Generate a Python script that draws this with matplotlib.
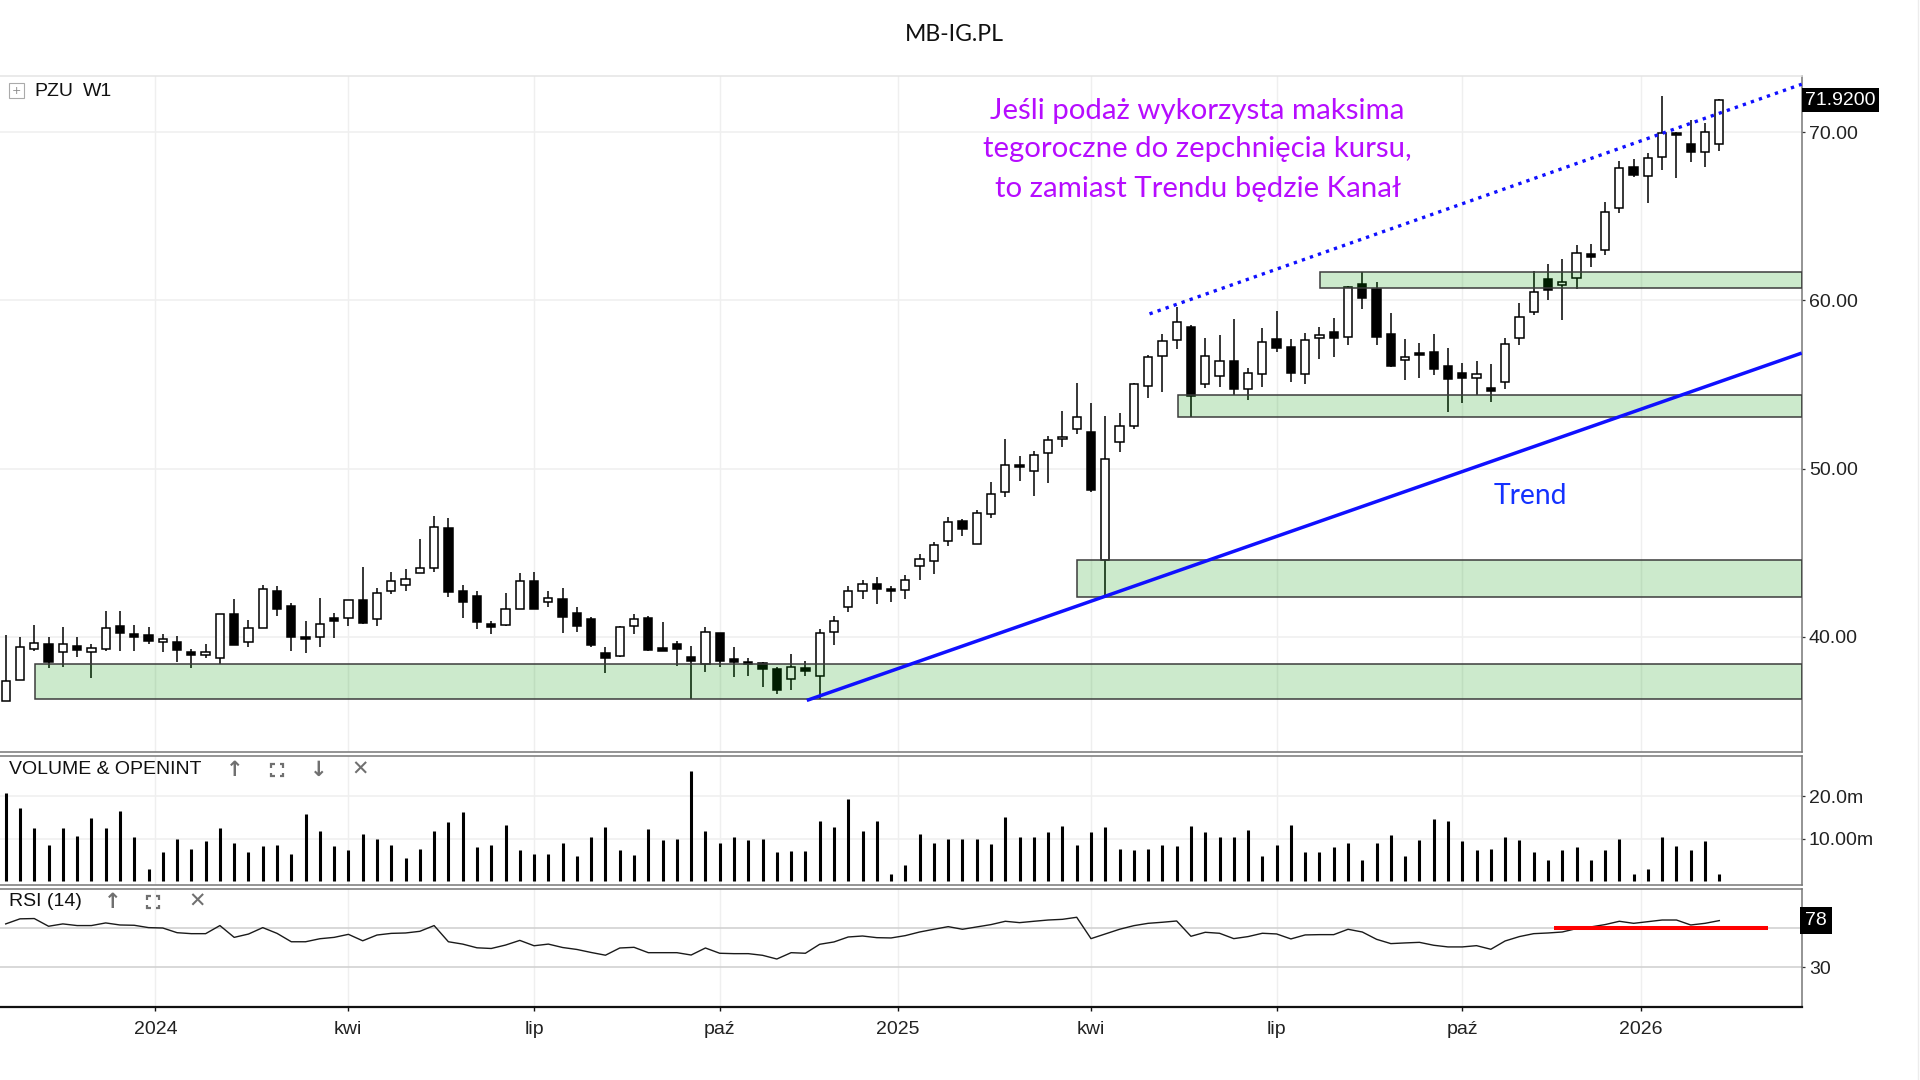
import matplotlib
matplotlib.use("Agg")
import matplotlib.pyplot as plt
from matplotlib.patches import Rectangle
from matplotlib.lines import Line2D

# ---------------- data (weekly candles, PZU W1) ----------------
opens = [36.17, 37.42, 39.29, 39.54, 39.07, 39.46, 39.07, 39.29, 40.65, 40.16,
         40.12, 39.66, 39.70, 39.11, 38.91, 38.71, 41.33, 39.66, 40.54, 42.74,
         41.83, 40.00, 39.98, 41.09, 41.09, 42.18, 41.03, 42.74, 43.06, 43.77,
         44.07, 46.45, 42.74, 42.44, 40.75, 40.69, 41.63, 43.33, 42.08, 42.22,
         41.39, 41.05, 39.01, 38.85, 40.65, 41.13, 39.31, 39.54, 38.81, 38.37,
         40.20, 38.67, 38.51, 38.41, 38.05, 37.51, 38.13, 37.67, 40.30, 41.75,
         42.69, 43.15, 42.83, 42.75, 44.18, 44.52, 45.68, 46.87, 45.52, 47.31,
         48.61, 50.22, 49.86, 50.92, 51.75, 52.34, 52.20, 44.56, 51.61, 52.56,
         54.94, 56.67, 57.66, 58.41, 55.04, 55.48, 56.37, 54.72, 55.63, 57.70,
         57.26, 55.63, 57.76, 58.10, 57.84, 60.97, 60.67, 58.00, 56.46, 56.89,
         56.95, 56.10, 55.70, 55.39, 54.81, 55.17, 57.74, 59.33, 61.27, 60.91,
         61.31, 62.75, 63.03, 65.50, 67.94, 67.41, 68.53, 69.96, 69.33, 68.83,
         69.29]
highs = [40.10, 40.00, 40.69, 39.96, 40.58, 39.96, 39.56, 41.55, 41.55, 40.69,
         40.58, 40.18, 40.04, 39.27, 39.56, 41.36, 42.22, 40.99, 43.08, 43.02,
         42.02, 40.93, 42.28, 41.43, 42.20, 44.17, 42.88, 43.87, 44.01, 45.79,
         47.20, 47.04, 43.08, 42.74, 40.95, 42.58, 43.77, 43.83, 42.74, 42.88,
         41.75, 41.15, 39.40, 40.63, 41.35, 41.23, 40.85, 39.74, 39.46, 40.60,
         40.22, 39.36, 38.76, 38.51, 38.21, 38.96, 38.57, 40.46, 41.25, 42.99,
         43.39, 43.55, 43.03, 43.65, 44.94, 45.64, 47.13, 47.01, 47.53, 49.22,
         51.75, 50.76, 51.02, 51.91, 53.45, 55.08, 53.89, 53.10, 53.29, 55.08,
         56.73, 58.02, 59.64, 58.55, 57.76, 57.96, 58.91, 55.97, 58.35, 59.40,
         57.70, 58.06, 58.45, 58.95, 60.85, 61.68, 61.11, 59.23, 57.68, 57.49,
         57.98, 57.19, 56.26, 56.42, 56.20, 57.78, 59.82, 61.76, 62.16, 62.46,
         63.29, 63.35, 65.86, 68.28, 68.40, 68.77, 72.14, 70.02, 70.75, 70.55,
         72.00]
lows = [36.17, 37.42, 39.17, 38.12, 38.21, 38.81, 37.52, 39.17, 39.17, 39.17,
        39.54, 39.09, 38.47, 38.12, 38.75, 38.35, 39.48, 39.40, 40.54, 41.23,
        39.17, 39.01, 39.40, 39.94, 40.63, 40.75, 40.63, 42.52, 42.74, 43.77,
        43.87, 42.38, 41.09, 40.44, 40.14, 40.63, 41.63, 41.67, 41.75, 40.20,
        40.30, 39.40, 37.86, 38.81, 40.16, 39.17, 39.17, 38.27, 36.29, 37.91,
        38.21, 37.61, 37.67, 37.01, 36.61, 36.81, 37.67, 36.27, 39.50, 41.45,
        42.25, 41.95, 42.05, 42.25, 43.35, 43.75, 45.38, 45.98, 45.52, 47.07,
        48.33, 49.26, 48.37, 49.12, 51.31, 52.06, 48.63, 42.38, 51.01, 52.36,
        54.19, 54.58, 57.12, 53.06, 54.78, 54.84, 54.38, 54.09, 54.84, 56.96,
        55.12, 55.04, 56.51, 56.63, 57.35, 59.47, 57.35, 56.07, 55.27, 55.41,
        55.56, 53.39, 53.92, 54.38, 53.98, 54.71, 57.35, 59.13, 60.02, 58.83,
        60.71, 61.96, 62.69, 65.21, 67.35, 65.80, 67.74, 67.29, 68.24, 67.94,
        68.87]
closes = [37.36, 39.40, 39.60, 38.47, 39.54, 39.23, 39.33, 40.52, 40.20, 39.96,
          39.74, 39.84, 39.21, 38.91, 39.11, 41.33, 39.48, 40.52, 42.82, 41.67,
          39.98, 39.84, 40.73, 40.95, 42.18, 40.83, 42.58, 43.33, 43.41, 44.09,
          46.55, 42.64, 42.04, 40.85, 40.56, 41.63, 43.33, 41.67, 42.28, 41.15,
          40.63, 39.50, 38.71, 40.58, 41.03, 39.21, 39.17, 39.25, 38.57, 40.30,
          38.57, 38.51, 38.37, 38.05, 36.81, 38.17, 37.97, 40.20, 40.96, 42.69,
          43.15, 42.83, 42.69, 43.35, 44.62, 45.44, 46.83, 46.43, 47.37, 48.47,
          50.20, 50.10, 50.82, 51.71, 51.90, 53.04, 48.73, 50.56, 52.56, 55.02,
          56.61, 57.56, 58.69, 54.33, 56.67, 56.37, 54.72, 55.71, 57.50, 57.16,
          55.71, 57.62, 57.96, 57.76, 60.81, 60.12, 57.84, 56.10, 56.61, 56.73,
          55.92, 55.31, 55.37, 55.62, 54.61, 57.41, 59.03, 60.48, 60.65, 61.07,
          62.83, 62.59, 65.27, 67.88, 67.49, 68.48, 69.96, 69.82, 68.83, 70.02,
          71.92]
volume_m = [20.6, 17.3, 12.4, 8.6, 12.4, 10.6, 14.8, 12.4, 16.5, 10.3,
            3.0, 6.8, 10.0, 7.7, 9.5, 12.4, 9.1, 6.8, 8.3, 8.6,
            6.5, 15.9, 11.8, 8.3, 7.4, 11.2, 10.0, 8.6, 5.4, 7.7,
            11.8, 13.9, 16.3, 8.0, 8.6, 13.3, 7.4, 6.5, 6.5, 9.1,
            5.9, 10.3, 12.7, 7.4, 6.2, 12.3, 9.7, 10.0, 25.9, 11.8,
            9.1, 10.5, 9.7, 10.0, 6.8, 7.1, 7.1, 14.1, 12.7, 19.4,
            11.8, 14.1, 1.8, 3.8, 11.2, 9.1, 10.0, 10.0, 10.0, 8.8,
            15.0, 10.3, 10.5, 11.5, 13.0, 8.5, 11.5, 12.7, 7.7, 7.3,
            7.7, 8.5, 8.3, 13.0, 11.5, 10.3, 10.5, 12.1, 5.9, 8.5,
            13.2, 6.8, 6.8, 8.0, 9.1, 5.0, 9.1, 10.9, 5.9, 9.7,
            14.7, 14.1, 9.5, 7.3, 7.7, 10.5, 9.7, 6.8, 5.0, 7.3,
            8.0, 5.0, 7.3, 10.0, 1.8, 3.0, 10.3, 8.3, 7.3, 9.5,
            1.8]
rsi = [74.5, 79.7, 80.0, 72.1, 74.5, 72.8, 72.8, 75.5, 73.4, 73.1,
       70.7, 70.3, 65.5, 64.5, 64.5, 72.8, 60.7, 64.1, 70.7, 64.8,
       56.2, 56.2, 59.3, 60.7, 63.8, 57.2, 63.1, 64.8, 65.2, 66.9,
       72.8, 56.2, 53.8, 50.0, 49.3, 52.8, 57.6, 52.1, 53.8, 50.3,
       48.3, 45.2, 42.4, 49.8, 50.5, 45.0, 45.0, 45.0, 42.6, 49.8,
       44.4, 44.0, 44.0, 42.3, 38.5, 45.0, 44.4, 53.6, 56.0, 61.1,
       62.1, 60.4, 60.1, 62.5, 66.2, 69.0, 71.7, 69.0, 71.4, 73.8,
       77.2, 75.8, 77.2, 78.5, 79.2, 81.3, 59.4, 64.2, 69.0, 72.7,
       75.1, 76.2, 77.5, 61.8, 65.9, 64.9, 59.4, 61.5, 64.9, 64.2,
       59.1, 63.2, 63.5, 63.5, 69.0, 66.2, 58.7, 54.3, 55.0, 55.6,
       52.6, 50.9, 50.9, 52.2, 48.5, 57.0, 61.5, 64.5, 65.2, 66.2,
       69.7, 71.4, 73.8, 77.2, 75.1, 76.8, 78.5, 78.5, 73.4, 75.1,
       77.9]

x_tick_pos = [10.48, 23.96, 37.02, 49.99, 62.5, 75.97, 89.0, 102.0, 114.5]
x_tick_labels = ['2024', 'kwi', 'lip', 'paź', '2025', 'kwi', 'lip', 'paź', '2026']
price_ticks = [40, 50, 60, 70]
price_tick_labels = ['40.00', '50.00', '60.00', '70.00']
vol_ticks = [10, 20]
vol_tick_labels = ['10.00m', '20.0m']
rsi_ticks = [30]
rsi_tick_labels = ['30']
rsi_levels = [30, 70]

# support / resistance zones: start (bar index), low, high
zone_start = [2.05, 75.0, 82.07, 92.04]
zone_low = [36.29, 42.38, 53.06, 60.75]
zone_high = [38.35, 44.56, 54.35, 61.68]

# trend line and channel line (bar index, price)
trend_x = [56.1, 125.77]
trend_y = [36.21, 56.87]
channel_x = [80.1, 125.77]
channel_y = [59.2, 72.86]
rsi_mark_x = [108.4, 123.4]
rsi_mark_y = [70, 70]

last_price_label = '71.9200'
last_rsi_label = '78'

title_text = 'MB-IG.PL'
note_lines = ['Jeśli podaż wykorzysta maksima',
              'tegoroczne do zepchnięcia kursu,',
              'to zamiast Trendu będzie Kanał']
trend_label = 'Trend'

# ---------------- figure ----------------
W, H = 1920, 1080
fig = plt.figure(figsize=(19.2, 10.8), dpi=100)
fig.patch.set_facecolor('white')

def fy(px):
    return 1 - px / H

XR = 1801.7 / W
ax = fig.add_axes([0, fy(751.7), XR, fy(76) - fy(751.7)])
axv = fig.add_axes([0, fy(885), XR, fy(756) - fy(885)], sharex=ax)
axr = fig.add_axes([0, fy(1006.7), XR, fy(889) - fy(1006.7)], sharex=ax)

LAB = dict(family='Liberation Sans', size=14, color='#222222')
SPINE = '#777777'
n = len(closes)
idx = list(range(n))

for a in (ax, axv, axr):
    a.set_facecolor('white')
    a.spines['left'].set_visible(False)
    for s in ('top', 'bottom', 'right'):
        a.spines[s].set_color(SPINE)
        a.spines[s].set_linewidth(1.1)
    a.yaxis.tick_right()
    a.tick_params(axis='y', which='both', direction='out', length=2.5, width=0.9,
                  color='#333333', pad=2.6, labelsize=14, labelcolor='#222222')
    a.set_xticks(x_tick_pos)
    a.grid(axis='x', color='#efefef', lw=1.0, zorder=0)
    a.set_axisbelow(True)

ax.spines['top'].set_color('#e4e4e4')
axr.spines['bottom'].set_color('#111111')
axr.spines['bottom'].set_linewidth(1.6)

ax.set_xlim(-0.40, 125.77)
ax.set_ylim(33.16, 73.35)
axv.set_ylim(-0.84, 29.37)
axr.set_ylim(-10.4, 110.3)

# ----- main price panel -----
ax.set_yticks(price_ticks)
ax.set_yticklabels(price_tick_labels, **LAB)
ax.grid(axis='y', color='#f0f0f0', lw=1.2, zorder=0)

bw = 0.58
ax.vlines(idx, lows, highs, colors='black', lw=1.1, zorder=2)
for i in idx:
    o, c = opens[i], closes[i]
    lo, hi = min(o, c), max(o, c)
    hgt = max(hi - lo, 0.06)
    fc = 'white' if c >= o else 'black'
    ax.add_patch(Rectangle((i - bw / 2, lo), bw, hgt, facecolor=fc,
                           edgecolor='black', lw=1.1, zorder=3))

xr = ax.get_xlim()[1]
for s, lo, hi in zip(zone_start, zone_low, zone_high):
    ax.add_patch(Rectangle((s, lo), xr - s, hi - lo, facecolor=(0.0, 0.59, 0.0, 0.2),
                           edgecolor='#3c3c3c', lw=1.1, zorder=4))

ax.plot(trend_x, trend_y, color='#1010ff', lw=2.5, solid_capstyle='butt', zorder=5)
ax.plot(channel_x, channel_y, color='#1010ff', lw=2.4, linestyle=(0, (1, 1.55)),
        dash_capstyle='butt', zorder=5)

ax.tick_params(axis='x', which='both', length=0, labelbottom=False)

ax.annotate(last_price_label, xy=(1, closes[-1]), xycoords=('axes fraction', 'data'),
            xytext=(3.5, 0), textcoords='offset pixels', ha='left', va='center',
            family='Liberation Sans', size=14, color='white', zorder=10,
            bbox=dict(boxstyle='square,pad=0.18', fc='black', ec='none'),
            annotation_clip=False)

# ----- volume panel -----
axv.vlines(idx, 0, volume_m, colors='black', lw=2.2, zorder=3)
axv.set_yticks(vol_ticks)
axv.set_yticklabels(vol_tick_labels, **LAB)
axv.grid(axis='y', color='#f0f0f0', lw=1.2, zorder=0)
axv.tick_params(axis='x', which='both', length=0, labelbottom=False)

# ----- RSI panel -----
for lv in rsi_levels:
    axr.axhline(lv, color='#d2d2d2', lw=1.2, zorder=1)
axr.plot(idx, rsi, color='#1a1a1a', lw=1.0, zorder=3)
axr.plot(rsi_mark_x, rsi_mark_y, color='#ff0000', lw=2.9, solid_capstyle='butt', zorder=4)
axr.set_yticks(rsi_ticks)
axr.set_yticklabels(rsi_tick_labels, **LAB)
axr.set_xticklabels(x_tick_labels, **LAB)
axr.tick_params(axis='x', direction='out', length=3, width=1.0, color='#111111', pad=7)
axr.annotate(last_rsi_label, xy=(1, rsi[-1]), xycoords=('axes fraction', 'data'),
             xytext=(3.5, 0), textcoords='offset pixels', ha='left', va='center',
             family='Liberation Sans', size=14, color='white', zorder=10,
             bbox=dict(boxstyle='square,pad=0.25', fc='black', ec='none'),
             annotation_clip=False)

# ----- header texts -----
ICON = dict(family='DejaVu Sans', size=15, color='#707070', ha='center', va='center',
            fontweight='bold')

def maximize_icon(cx, cy, half=6.0, arm=3.5, color='#707070'):
    # "four corners" (maximize) icon; no installed font has this glyph
    for sx in (-1, 1):
        for sy in (-1, 1):
            x0, y0 = cx + sx * half, cy + sy * half
            xs = [x0 - sx * arm, x0, x0]
            ys = [y0, y0, y0 - sy * arm]
            fig.add_artist(Line2D([v / W for v in xs], [fy(v) for v in ys],
                                  color=color, lw=1.6, solid_capstyle='butt',
                                  solid_joinstyle='miter'))

fig.text(16.5 / W, fy(90.5), '+', family='DejaVu Sans', size=8, color='#888888',
         ha='center', va='center',
         bbox=dict(boxstyle='square,pad=0.25', fc='white', ec='#aaaaaa', lw=0.8))
fig.text(34 / W, fy(91), 'PZU', family='Liberation Sans', size=14, color='#111111',
         ha='left', va='center')
fig.text(83 / W, fy(91), 'W1', family='Liberation Sans', size=14, color='#111111',
         ha='left', va='center')

fig.text(8.7 / W, fy(770), 'VOLUME & OPENINT', family='Liberation Sans', size=14,
         color='#111111', ha='left', va='center')
for xp, g in zip([235, 319, 360], ['↑', '↓', '✕']):
    fig.text(xp / W, fy(770), g, **ICON)
maximize_icon(277, 770)
fig.text(8.7 / W, fy(902), 'RSI (14)', family='Liberation Sans', size=14,
         color='#111111', ha='left', va='center')
for xp, g in zip([112.6, 196.8], ['↑', '✕']):
    fig.text(xp / W, fy(902), g, **ICON)
maximize_icon(153.4, 902)

t_title = fig.text(954.5 / W, fy(34.3), title_text, family='Lato', size=14,
                   color='#111111', ha='center', va='center')

NOTE_C = '#b60cff'
note_y = [111.4, 149.4, 188.6]
note_texts = []
for ln, yy in zip(note_lines, note_y):
    note_texts.append(fig.text(1197.6 / W, fy(yy), ln, family='Lato', size=19,
                               color=NOTE_C, ha='center', va='center'))
t_trend = fig.text(1530.6 / W, fy(495.9), trend_label, family='Lato', size=19,
                   color='#1432ff', ha='center', va='center')

# figure border hint on the right
fig.add_artist(Line2D([1918 / W, 1918 / W], [0, 1], color='#ececec', lw=1.0))

# fit text widths to the reference
fig.canvas.draw()
r = fig.canvas.get_renderer()

def fit(t, target):
    w = t.get_window_extent(renderer=r).width
    t.set_fontsize(t.get_fontsize() * target / w)

fit(t_title, 99)
fit(note_texts[0], 414)
note_texts[1].set_fontsize(note_texts[0].get_fontsize())
note_texts[2].set_fontsize(note_texts[0].get_fontsize())
fit(t_trend, 73.5)

fig.savefig('out.png', dpi=100, facecolor='white')
